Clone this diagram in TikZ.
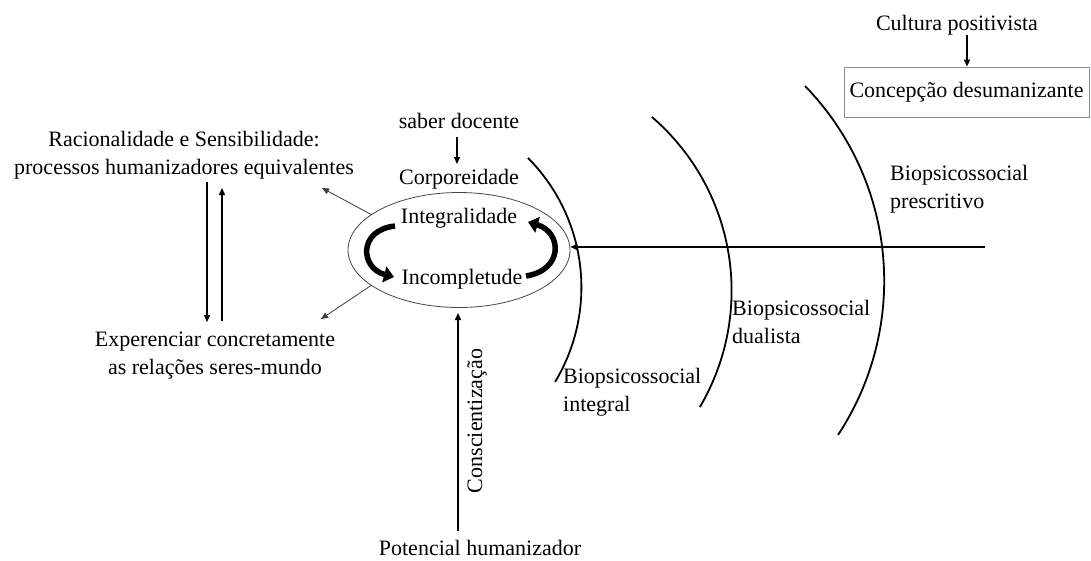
\documentclass[tikz,border=0pt]{standalone}
\usepackage{fontspec}
\setmainfont{Liberation Serif}
\usetikzlibrary{shapes.geometric,arrows.meta}
\definecolor{boxc}{RGB}{125,145,165}
\definecolor{ellc}{RGB}{70,70,70}
\begin{document}
\begin{tikzpicture}[x=1pt,y=-1pt,
  txt/.style={font=\fontsize{22}{28}\selectfont, inner sep=0pt},
  arr/.style={line width=1.4pt, -{Triangle[length=7pt,width=6pt]}},
  thinarr/.style={line width=0.8pt, draw=black!75, -{Triangle[length=7pt,width=6pt]}},
  arcline/.style={line width=1.8pt},
  bigarr/.style={line width=5.5pt, -{Triangle[length=10pt,width=16pt]}}]
\fill[white] (0,0) rectangle (1091,560);
\useasboundingbox (0,0) rectangle (1091,560);

% top right
\node[txt, anchor=base] (cult) at (957,30) {Cultura positivista};
\node[txt, draw=boxc, line width=0.8pt, minimum width=245pt, minimum height=50pt] (conc) at (966.5,92) {Concepção desumanizante};
\coordinate (cx) at (967,0);
\draw[arr] (cult.south -| cx) -- (conc.north -| cx);

% centre
\node[ellipse, draw=ellc, line width=0.8pt, minimum width=222pt, minimum height=115pt, inner sep=0pt] (ell) at (459,250) {};
\node[txt, anchor=base] (sab) at (459,128) {saber docente};
\node[txt, anchor=base] (corp) at (459,184) {Corporeidade};
\node[txt, anchor=base] (integ) at (459,223) {Integralidade};
\node[txt, anchor=base] (incomp) at (462,284) {Incompletude};
\coordinate (s1) at (457,137);
\coordinate (s2) at (457,164);
\draw[arr] (s1) -- (s2);

% thick curved arrows
\coordinate (la) at (395,226);
\coordinate (lb) at (394,277);
\coordinate (ra) at (526,276);
\coordinate (rb) at (528,222);
\draw[bigarr] (la) .. controls (358,230) and (360,268) .. (lb);
\draw[bigarr] (ra) .. controls (564,270) and (562,232) .. (rb);

% left side
\node[txt, align=center] (rac) at (184,155) {Racionalidade e Sensibilidade:\\processos humanizadores equivalentes};
\node[txt, align=center] (exp) at (215,356) {Experenciar concretamente\\as relações seres-mundo};
\coordinate (d1) at (207,182);
\coordinate (d2) at (207,322);
\coordinate (u1) at (222,321);
\coordinate (u2) at (222,188);
\draw[arr] (d1) -- (d2);
\draw[arr] (u1) -- (u2);
\coordinate (rt) at (322,188);
\coordinate (et) at (321,319);
\draw[thinarr] (ell.158) -- (rt);
\draw[thinarr] (ell.202) -- (et);

% bottom
\node[txt, anchor=base] (pot) at (480,555) {Potencial humanizador};
\coordinate (p1) at (458,531);
\coordinate (p2) at (458,313);
\draw[arr] (p1) -- (p2);
\node[txt, rotate=90, anchor=base] (consc) at (482,421) {Conscientização};

% arcs
\draw[arcline] plot[domain=-44.9:31.1, samples=60, smooth] ({398.1+183.3*cos(\x)},{287.3+183.3*sin(\x)});
\draw[arcline] plot[domain=-49.3:30.5, samples=60, smooth] ({502.4+229.2*cos(\x)},{290.7+229.2*sin(\x)});
\draw[arcline] plot[domain=-44.2:33.4, samples=60, smooth] ({604.5+279.7*cos(\x)},{281.0+279.7*sin(\x)});

% horizontal arrow
\coordinate (hs) at (985,247);
\draw[arr] (hs) -- (hs -| ell.east);

% labels
\node[txt, align=left, anchor=west] (bpres) at (890,189) {Biopsicossocial\\prescritivo};
\node[txt, align=left, anchor=west] (bdual) at (732,322) {Biopsicossocial\\dualista};
\node[txt, align=left, anchor=west] (binteg) at (563,392) {Biopsicossocial\\integral};
\end{tikzpicture}
\end{document}
